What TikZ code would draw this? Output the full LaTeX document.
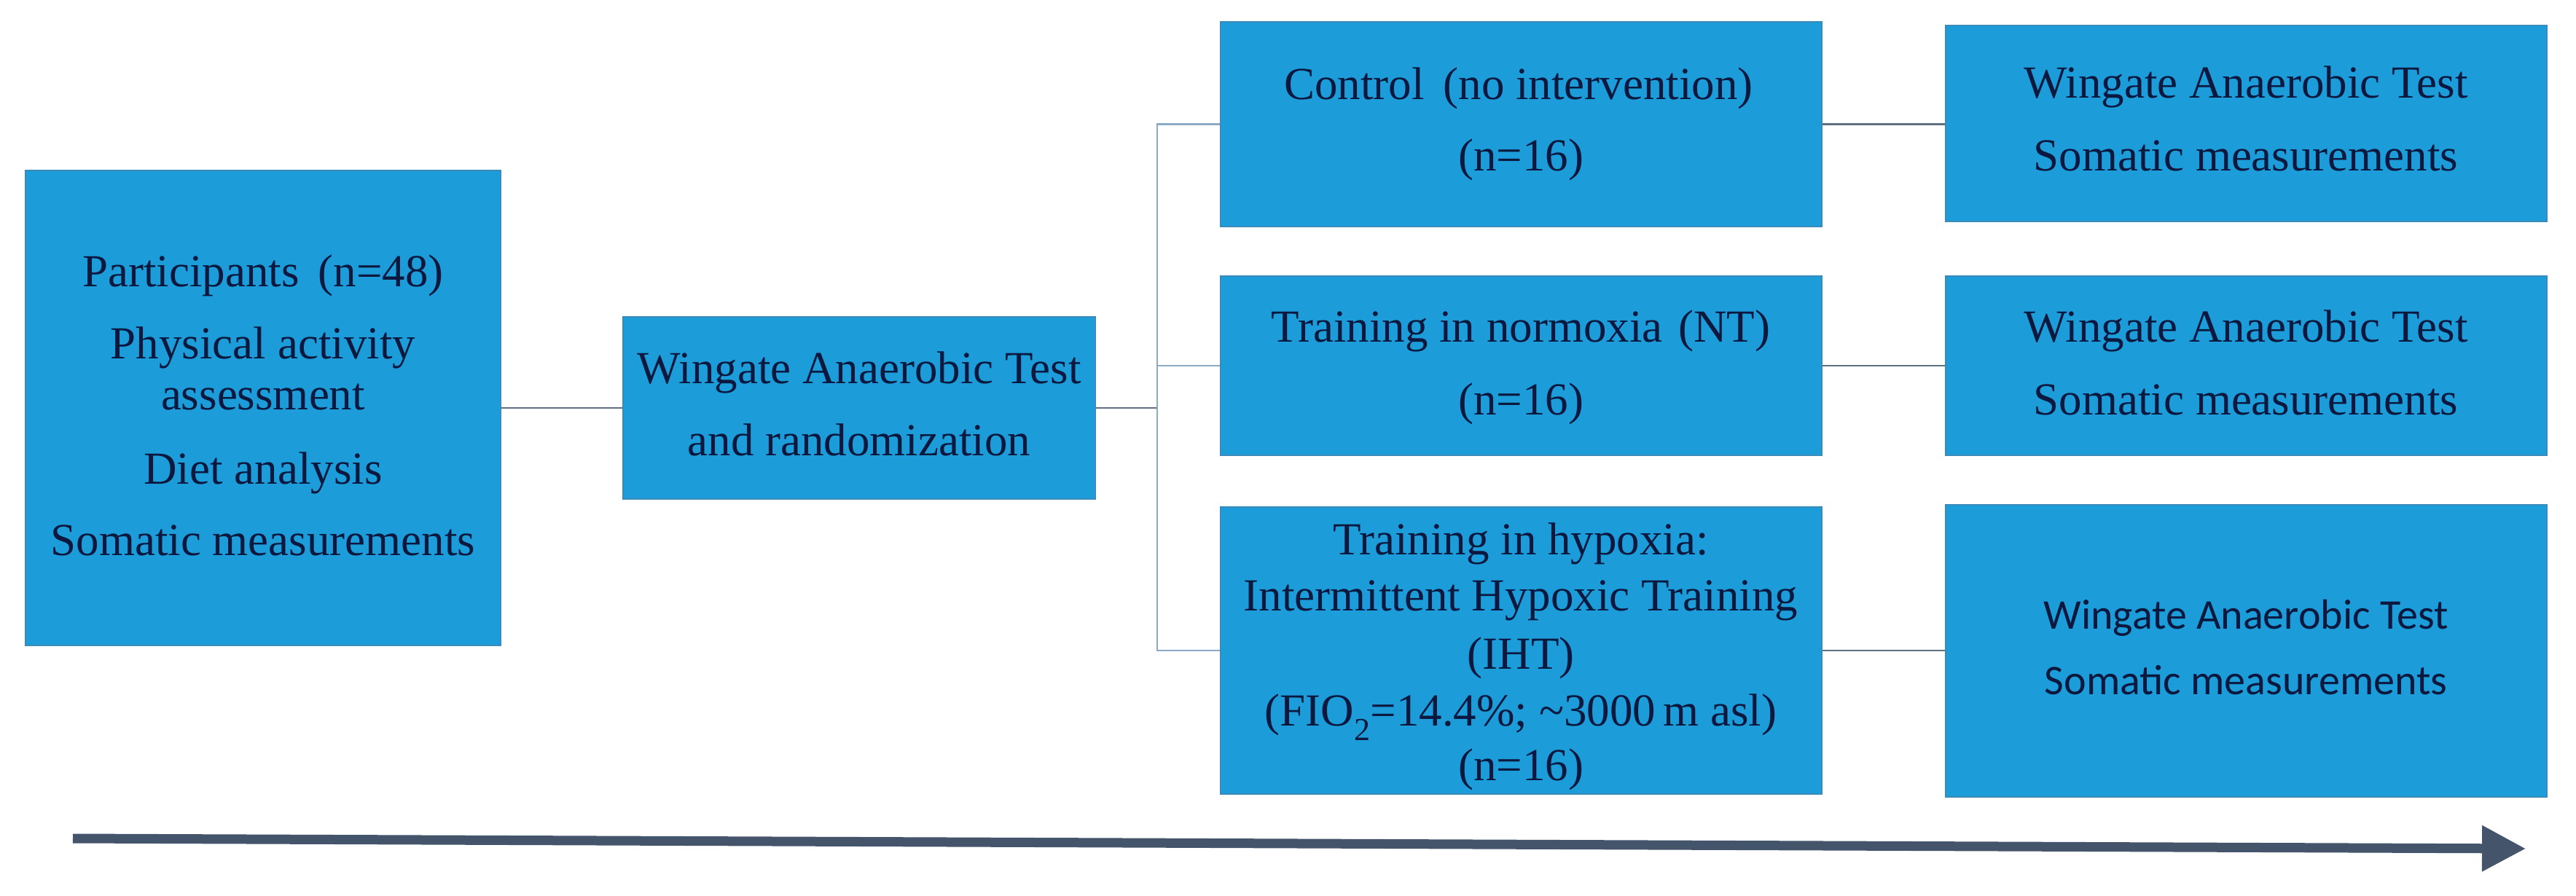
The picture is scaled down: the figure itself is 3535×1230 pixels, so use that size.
\documentclass[tikz,border=0pt]{standalone}
\usepackage{fontspec}
\setmainfont{Liberation Serif}
\newfontfamily\carl{Carlito}
\usetikzlibrary{arrows.meta}
\definecolor{boxblue}{RGB}{28,156,216}
\definecolor{boxedge}{RGB}{60,138,185}
\definecolor{txtcol}{RGB}{12,24,62}
\definecolor{linecol}{RGB}{95,112,128}
\definecolor{branchcol}{RGB}{140,170,198}
\definecolor{arrowcol}{RGB}{68,84,106}
\begin{document}
\begin{tikzpicture}[x=1pt,y=-1pt,
  blk/.style={draw=boxedge, line width=2pt, fill=boxblue, inner sep=0pt, rectangle},
  txt/.style={anchor=base, inner sep=0pt, text=txtcol, font=\fontsize{63}{70}\selectfont},
  stxt/.style={anchor=base, inner sep=0pt, text=txtcol, font=\carl\fontsize{58}{64}\selectfont},
  conn/.style={draw=linecol, line width=2.5pt},
  brn/.style={draw=branchcol, line width=2.5pt},
]
\useasboundingbox (0,0) rectangle (3535,1230);
\fill[white] (0,0) rectangle (3535,1230);

% boxes
\node[blk, minimum width=652pt, minimum height=652pt] (b1) at (361,560) {};
\node[blk, minimum width=648pt, minimum height=250pt] (b2) at (1179,560) {};
\node[blk, minimum width=825pt, minimum height=281pt] (ctrl) at (2087.5,170.5) {};
\node[blk, minimum width=825pt, minimum height=246pt] (nt) at (2087.5,502) {};
\node[blk, minimum width=825pt, minimum height=394pt] (iht) at (2087.5,893) {};
\node[blk, minimum width=825pt, minimum height=269pt] (r1) at (3082.5,169.5) {};
\node[blk, minimum width=825pt, minimum height=246pt] (r2) at (3082.5,502) {};
\node[blk, minimum width=825pt, minimum height=401pt] (r3) at (3082.5,893.5) {};

% texts
\node[txt] (b1a) at (361,393) {Participants\hspace{10pt} (n=48)};
\node[txt] (b1b) at (361,492) {Physical activity};
\node[txt] (b1c) at (361,562) {assessment};
\node[txt] (b1d) at (361,664) {Diet analysis};
\node[txt] (b1e) at (361,762) {Somatic measurements};

\node[txt] (b2a) at (1179,526) {Wingate Anaerobic Test};
\node[txt] (b2b) at (1179,625) {and randomization};

\node[txt] (ca) at (2084,137) {Control\hspace{10pt} (no intervention)};
\node[txt] (cb) at (2087,235) {(n=16)};

\node[txt] (na) at (2087,469) {Training in normoxia\hspace{6pt} (NT)};
\node[txt] (nb) at (2087,569) {(n=16)};

\node[txt] (ha) at (2087,761) {Training in hypoxia:};
\node[txt] (hb) at (2087,838) {Intermittent Hypoxic Training};
\node[txt] (hc) at (2087,918) {(IHT)};
\node[txt] (hd) at (2087,996) {(FIO\textsubscript{2}=14.4\%; \textasciitilde3000\,m asl)};
\node[txt] (he) at (2087,1071) {(n=16)};

\node[txt] (r1a) at (3082,135) {Wingate Anaerobic Test};
\node[txt] (r1b) at (3082,235) {Somatic measurements};
\node[txt] (r2a) at (3082,469) {Wingate Anaerobic Test};
\node[txt] (r2b) at (3082,569) {Somatic measurements};
\node[stxt] (r3a) at (3082,863) {Wingate Anaerobic Test};
\node[stxt] (r3b) at (3082,953) {Somatic measurements};

% connectors
\coordinate (fork) at (1588,560);
\draw[conn] (b1.east) -- (b2.west);
\draw[conn] (b2.east) -- (fork);
\draw[brn] (fork) |- (ctrl.west);
\draw[brn] (fork) |- (nt.west);
\draw[brn] (fork) |- (iht.west);
\draw[conn] (ctrl.east) -- (r1.west |- ctrl.east);
\draw[conn] (nt.east) -- (r2.west |- nt.east);
\draw[conn] (iht.east) -- (r3.west |- iht.east);

% time arrow
\coordinate (as) at (100,1151);
\coordinate (ae) at (3466,1165);
\draw[draw=arrowcol, line width=13pt, -{Triangle[length=60pt,width=60pt]}, arrowcol] (as) -- (ae);
\end{tikzpicture}
\end{document}
